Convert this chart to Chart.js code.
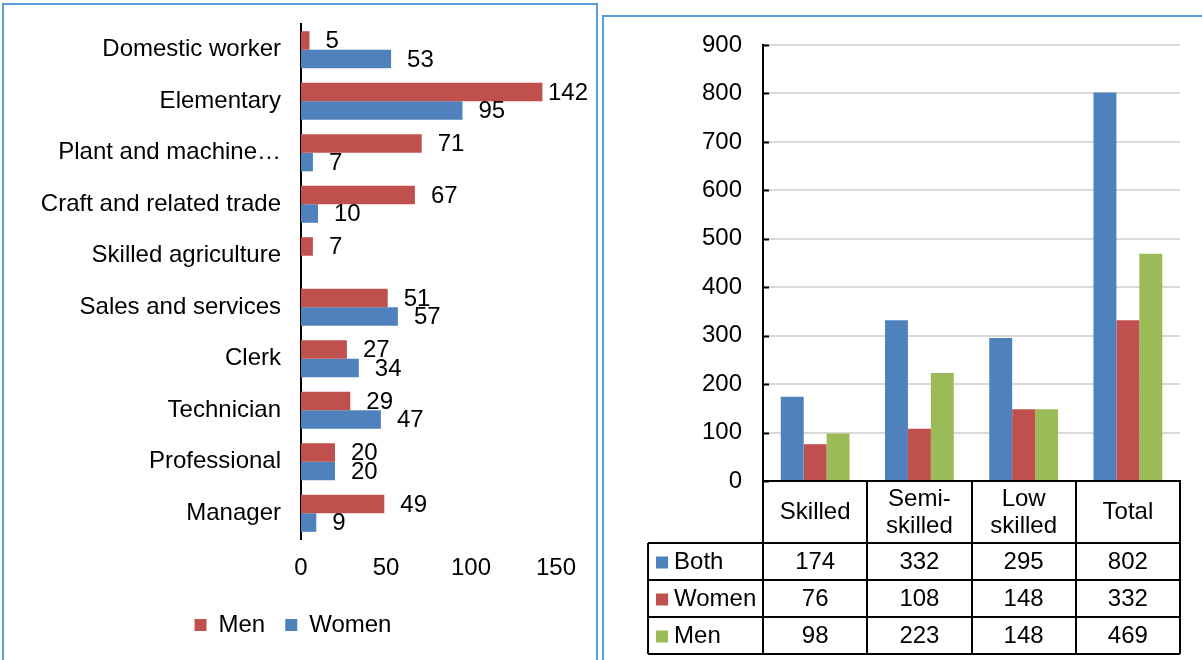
<!DOCTYPE html>
<html>
<head>
<meta charset="utf-8">
<script src="https://cdn.jsdelivr.net/npm/chart.js@4/dist/chart.umd.min.js"></script>
<style>
html,body{margin:0;padding:0;background:#fff;width:1202px;height:660px;overflow:hidden;}
.panel{position:absolute;border:2px solid #5B9BD5;border-bottom:none;box-sizing:border-box;}
#p1{left:2px;top:3px;width:596px;height:700px;}
#p2{left:602px;top:15px;width:602px;height:700px;}
#c1{position:absolute;left:0;top:0;}
#c2{position:absolute;left:600px;top:0;}
</style>
</head>
<body>
<div class="panel" id="p1"></div>
<div class="panel" id="p2"></div>
<canvas id="c1" width="600" height="660"></canvas>
<canvas id="c2" width="602" height="660"></canvas>
<script>
// ---- Left chart data ----
const occupations = ['Domestic worker','Elementary','Plant and machine…','Craft and related trade','Skilled agriculture','Sales and services','Clerk','Technician','Professional','Manager'];
const menByOccupation = [5,142,71,67,7,51,27,29,20,49];
const womenByOccupation = [53,95,7,10,null,57,34,47,20,9];
const occupationTicks = [0,50,100,150];

// ---- Right chart data ----
const skillLevels = [['Skilled'],['Semi-','skilled'],['Low','skilled'],['Total']];
const seriesNames = ['Both','Women','Men'];
const bothCounts = [174,332,295,802];
const womenCounts = [76,108,148,332];
const menCounts = [98,223,148,469];
const countTicks = [0,100,200,300,400,500,600,700,800,900];

const BLUE = '#4F81BD', RED = '#C0504D', GREEN = '#9BBB59';
const FONT = "'Liberation Sans', Arial, sans-serif";
Chart.defaults.font.family = FONT;
Chart.defaults.font.size = 24;
Chart.defaults.color = '#000';

const barLabels = {
  id: 'barLabels',
  afterDatasetsDraw(chart) {
    const ctx = chart.ctx;
    ctx.save();
    ctx.font = '24px ' + FONT;
    ctx.fillStyle = '#000';
    ctx.textBaseline = 'middle';
    ctx.textAlign = 'left';
    chart.data.datasets.forEach((ds, di) => {
      const meta = chart.getDatasetMeta(di);
      meta.data.forEach((bar, i) => {
        const v = ds.data[i];
        if (v == null) return;
        const t = String(v);
        const w = ctx.measureText(t).width;
        let x = bar.x + 16;
        if (x + w > chart.width - 12) x = chart.width - 12 - w;
        ctx.fillText(t, x, bar.y + 1);
      });
    });
    ctx.restore();
  }
};

new Chart(document.getElementById('c1'), {
  type: 'bar',
  data: {
    labels: occupations,
    datasets: [
      {label: 'Men', data: menByOccupation, backgroundColor: RED, borderWidth: 0},
      {label: 'Women', data: womenByOccupation, backgroundColor: BLUE, borderWidth: 0}
    ]
  },
  options: {
    indexAxis: 'y',
    responsive: false,
    animation: false,
    devicePixelRatio: 1,
    categoryPercentage: 0.72,
    barPercentage: 1.0,
    layout: {padding: {top: 24, left: 30, right: 44, bottom: 13}},
    plugins: {
      legend: {
        position: 'bottom',
        labels: {boxWidth: 12, boxHeight: 12, padding: 20, font: {size: 24}, color: '#000'}
      },
      tooltip: {enabled: false}
    },
    scales: {
      x: {
        min: 0, max: 150,
        afterBuildTicks(scale) { scale.ticks = occupationTicks.map(v => ({value: v})); },
        afterFit(scale) { scale.height = 54; },
        grid: {display: false, drawTicks: false},
        border: {display: false},
        ticks: {padding: 15, font: {size: 24}, color: '#000'}
      },
      y: {
        afterFit(scale) { scale.width = 271; scale.paddingTop = 0; scale.paddingBottom = 0; },
        grid: {display: false, drawTicks: false},
        border: {display: true, color: '#000', width: 2},
        ticks: {padding: 20, font: {size: 24}, color: '#000'}
      }
    }
  },
  plugins: [barLabels]
});

const dataTable = {
  id: 'dataTable',
  afterDraw(chart) {
    const ctx = chart.ctx;
    const xs = chart.scales.x, ys = chart.scales.y;
    const area = chart.chartArea;
    const n = chart.data.labels.length;
    const step = xs.getPixelForValue(1) - xs.getPixelForValue(0);
    const top = area.bottom;
    const headerBottom = top + 62;
    const rowH = 37;
    const tableBottom = headerBottom + rowH * seriesNames.length;
    const leftCol = area.left - 115;
    ctx.save();
    // inside tick marks on y axis
    ctx.strokeStyle = '#000';
    ctx.lineWidth = 2;
    ys.ticks.forEach(t => {
      const y = Math.round(ys.getPixelForValue(t.value)) + 0.5;
      ctx.beginPath(); ctx.moveTo(area.left, y); ctx.lineTo(area.left + 6, y); ctx.stroke();
    });
    // vertical lines
    for (let i = 0; i <= n; i++) {
      const x = Math.round(xs.getPixelForValue(0) - step / 2 + i * step);
      ctx.beginPath(); ctx.moveTo(x, top); ctx.lineTo(x, tableBottom); ctx.stroke();
    }
    ctx.beginPath(); ctx.moveTo(leftCol, headerBottom); ctx.lineTo(leftCol, tableBottom); ctx.stroke();
    // horizontal lines
    for (let r = 0; r <= seriesNames.length; r++) {
      const y = headerBottom + r * rowH;
      ctx.beginPath(); ctx.moveTo(leftCol, y); ctx.lineTo(area.right, y); ctx.stroke();
    }
    // row contents
    ctx.font = '24px ' + FONT;
    ctx.textBaseline = 'middle';
    chart.data.datasets.forEach((ds, r) => {
      const cy = headerBottom + r * rowH + rowH / 2 + 1;
      ctx.fillStyle = ds.backgroundColor;
      ctx.fillRect(leftCol + 8, cy - 6, 12, 12);
      ctx.fillStyle = '#000';
      ctx.textAlign = 'left';
      ctx.fillText(ds.label, leftCol + 26, cy);
      ctx.textAlign = 'center';
      ds.data.forEach((v, i) => {
        ctx.fillText(String(v), xs.getPixelForValue(i), cy);
      });
    });
    ctx.restore();
  }
};

new Chart(document.getElementById('c2'), {
  type: 'bar',
  data: {
    labels: skillLevels,
    datasets: [
      {label: seriesNames[0], data: bothCounts, backgroundColor: BLUE, borderWidth: 0},
      {label: seriesNames[1], data: womenCounts, backgroundColor: RED, borderWidth: 0},
      {label: seriesNames[2], data: menCounts, backgroundColor: GREEN, borderWidth: 0}
    ]
  },
  options: {
    responsive: false,
    animation: false,
    devicePixelRatio: 1,
    categoryPercentage: 0.66,
    barPercentage: 1.0,
    layout: {padding: {top: 45, left: 81, right: 22, bottom: 7}},
    plugins: {legend: {display: false}, tooltip: {enabled: false}},
    scales: {
      x: {
        afterFit(scale) { scale.height = 172; },
        grid: {display: false, drawTicks: false},
        border: {display: true, color: '#000', width: 2},
        ticks: {padding: 18, crossAlign: 'center', font: {size: 24, lineHeight: 1.12}, color: '#000', maxRotation: 0, autoSkip: false}
      },
      y: {
        min: 0, max: 900,
        afterBuildTicks(scale) { scale.ticks = countTicks.map(v => ({value: v})); },
        grid: {color: '#D9D9D9', lineWidth: 2, drawTicks: false},
        border: {display: true, color: '#000', width: 2},
        ticks: {padding: 21, font: {size: 24}, color: '#000'}
      }
    }
  },
  plugins: [dataTable]
});
</script>
</body>
</html>
